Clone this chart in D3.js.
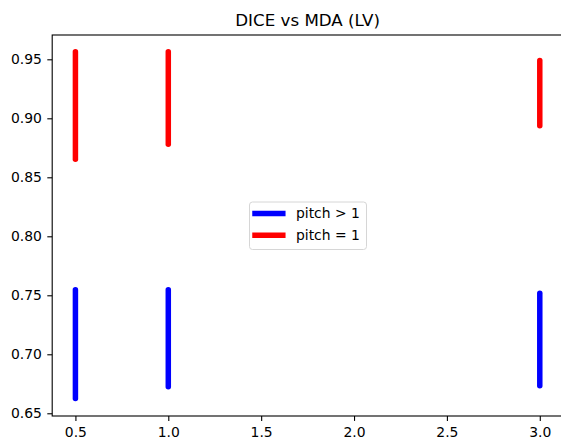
<!DOCTYPE html>
<html>
<head>
<meta charset="utf-8">
<script src="https://cdn.jsdelivr.net/npm/d3@7"></script>
<style>
  body { margin: 0; background: #fff; }
  svg text { font-family: "DejaVu Sans", sans-serif; }
</style>
</head>
<body>
<script>
// x positions of the vertical ranges
const xValues = [0.5, 1.0, 3.0];
// pitch > 1 (blue): top and bottom of each range
const gtHigh = [0.7547, 0.7547, 0.7518];
const gtLow = [0.6625, 0.6725, 0.6733];
// pitch = 1 (red)
const eqHigh = [0.9564, 0.9564, 0.9490];
const eqLow = [0.8653, 0.8780, 0.8937];

const xTicks = [0.5, 1.0, 1.5, 2.0, 2.5, 3.0];
const yTicks = [0.65, 0.70, 0.75, 0.80, 0.85, 0.90, 0.95];
const seriesNames = ["pitch > 1", "pitch = 1"];
const seriesColors = ["#0000ff", "#ff0000"];

document.addEventListener("DOMContentLoaded", function() {
    const w = 561;
    const h = 443;
    const left = 52.2, right = 563, top = 35, bottom = 416;
    const tick = 4.9;

    const xScale = d3.scaleLinear().domain([0.375, 3.125]).range([left, right]);
    const yScale = d3.scaleLinear().domain([0.6477, 0.9706]).range([bottom, top]);

    const svg = d3.select("body").append("svg").attr("width", w).attr("height", h);

    // the two series, each as one segment per x value
    const series = [
        {name: seriesNames[0], color: seriesColors[0], high: gtHigh, low: gtLow},
        {name: seriesNames[1], color: seriesColors[1], high: eqHigh, low: eqLow}
    ];
    const line = d3.line().x(d => xScale(d[0])).y(d => yScale(d[1]));

    series.forEach(s => {
        svg.append("g").selectAll("path")
        .data(xValues.map((x, i) => [[x, s.high[i]], [x, s.low[i]]]))
        .enter()
        .append("path")
        .attr("d", line)
        .attr("stroke", s.color)
        .attr("stroke-width", 5.5)
        .attr("stroke-linecap", "round")
        .attr("fill", "none");
    });

    const xAxis = d3.axisBottom(xScale).tickValues(xTicks).tickFormat(d3.format(".1f"))
        .tickSize(tick).tickPadding(5.9);
    const yAxis = d3.axisLeft(yScale).tickValues(yTicks).tickFormat(d3.format(".2f"))
        .tickSize(tick).tickPadding(5.4);

    const gx = svg.append("g").attr("transform", "translate(0," + bottom + ")").call(xAxis);
    const gy = svg.append("g").attr("transform", "translate(" + left + ",0)").call(yAxis);
    [gx, gy].forEach(g => {
        g.select(".domain").remove();
        g.selectAll("line").attr("stroke", "#000").attr("stroke-width", 1.1);
        g.selectAll("text").attr("fill", "#000").style("font-size", "13.9px")
            .style("font-family", "DejaVu Sans, sans-serif");
    });

    // axes frame
    svg.append("rect")
    .attr("x", left).attr("y", top)
    .attr("width", right - left).attr("height", bottom - top)
    .attr("fill", "none").attr("stroke", "#000").attr("stroke-width", 1.1);

    svg.append("text")
    .attr("x", (left + right) / 2)
    .attr("y", 25.5)
    .attr("text-anchor", "middle")
    .style("font-size", "16.7px")
    .attr("fill", "#000")
    .text("DICE vs MDA (LV)");

    // legend
    const lg = svg.append("g").attr("transform", "translate(249.5,202)");
    lg.append("rect")
    .attr("width", 117).attr("height", 47.5)
    .attr("rx", 3).attr("ry", 3)
    .attr("fill", "#fff").attr("fill-opacity", 0.8)
    .attr("stroke", "#d6d6d6").attr("stroke-width", 1);
    series.forEach((s, i) => {
        const y = 11.5 + i * 21.7;
        lg.append("line")
        .attr("x1", 5.5).attr("x2", 33.3)
        .attr("y1", y).attr("y2", y)
        .attr("stroke", s.color).attr("stroke-width", 5.5)
        .attr("stroke-linecap", "square");
        lg.append("text")
        .attr("x", 46.5).attr("y", y + 4.8)
        .style("font-size", "13.9px")
        .attr("fill", "#000")
        .text(s.name);
    });
});
</script>
</body>
</html>
